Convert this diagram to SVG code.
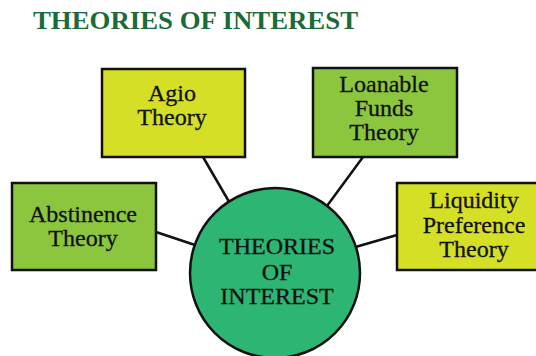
<svg xmlns="http://www.w3.org/2000/svg" width="536" height="356" viewBox="0 0 536 356">
<style>
.box{stroke:#111;stroke-width:2.5}
.y{fill:#d5df25}
.g{fill:#8cc63f}
.c{stroke:#111;stroke-width:2.5;fill:none}
.t{font-family:'Liberation Serif',serif;font-size:24px;fill:#111;stroke:#111;stroke-width:0.3;text-anchor:middle}
</style>
<rect width="536" height="356" fill="#fff"/>
<text x="33" y="29" font-family="Liberation Serif, serif" font-weight="bold" font-size="26" fill="#1b6b3a" textLength="325" lengthAdjust="spacingAndGlyphs">THEORIES OF INTEREST</text>
<g id="connectors">
<line class="c" x1="203" y1="157" x2="235" y2="212"/>
<line class="c" x1="363" y1="157" x2="324" y2="210"/>
<line class="c" x1="156" y1="232" x2="198" y2="246"/>
<line class="c" x1="397" y1="235" x2="352" y2="248"/>
</g>
<g id="agio">
<rect class="box y" x="102" y="69" width="143" height="88"/>
<text class="t" x="172" y="101">Agio</text>
<text class="t" x="172" y="125">Theory</text>
</g>
<g id="loanable">
<rect class="box g" x="313" y="68" width="144" height="89"/>
<text class="t" x="384" y="92">Loanable</text>
<text class="t" x="384" y="116">Funds</text>
<text class="t" x="384" y="140">Theory</text>
</g>
<g id="abstinence">
<rect class="box g" x="12" y="183" width="144" height="87"/>
<text class="t" x="83" y="222">Abstinence</text>
<text class="t" x="83" y="246">Theory</text>
</g>
<g id="liquidity">
<rect class="box y" x="397" y="183" width="152" height="87"/>
<text class="t" x="474" y="208">Liquidity</text>
<text class="t" x="474" y="233">Preference</text>
<text class="t" x="474" y="257">Theory</text>
</g>
<g id="center">
<circle cx="275" cy="273" r="85" fill="#2db573" stroke="#111" stroke-width="2.5"/>
<text class="t" x="277" y="254">THEORIES</text>
<text class="t" x="277" y="280">OF</text>
<text class="t" x="277" y="304">INTEREST</text>
</g>
</svg>
